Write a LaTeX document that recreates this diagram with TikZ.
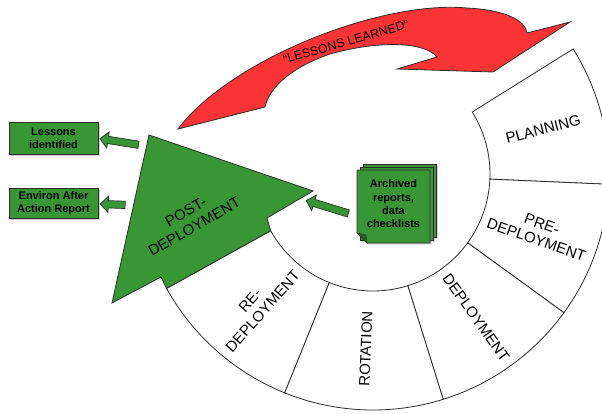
\documentclass[tikz,border=0pt]{standalone}
\usepackage{fontspec}
\setmainfont{Liberation Sans}
\usetikzlibrary{shapes.arrows,shadows}
\definecolor{leafgreen}{RGB}{57,150,52}
\definecolor{foldgreen}{RGB}{36,100,34}
\definecolor{loopred}{RGB}{250,52,52}
\definecolor{edgegray}{RGB}{45,45,45}
\begin{document}
\begin{tikzpicture}[x=1pt, y=1pt,
	segment/.style={draw=edgegray, fill=white, line width=0.8pt},
	seglabel/.style={font=\fontsize{15}{17}\selectfont, align=center, inner sep=0pt},
	greenbox/.style={rectangle, draw=edgegray, fill=leafgreen, line width=0.8pt, font=\fontsize{11}{13}\selectfont\bfseries, align=center, minimum width=89pt, drop shadow={shadow xshift=1.5pt, shadow yshift=-1.5pt, opacity=0.35}},
	blockarrow/.style={single arrow, draw=edgegray, fill=leafgreen, line width=0.7pt, inner xsep=0pt, inner ysep=3.3pt, single arrow head extend=4.5pt},
	page/.style={rectangle, draw=edgegray, fill=leafgreen, line width=0.7pt, minimum width=73pt, minimum height=73pt, drop shadow={shadow xshift=1.5pt, shadow yshift=-1.5pt, opacity=0.35}},
	]
	
	%Frame
	\clip (0,0) rectangle (602,-413);
	
	%Ring
	\begin{scope}[shift={(373,-174)}]
	\foreach \a/\b in {32/-2.5, -2.5/-36, -36/-72.7, -72.7/-112, -112/-151}
		\draw[segment] (\a:117) arc[start angle=\a, end angle=\b, radius=117] -- (\b:236) arc[start angle=\b, end angle=\a, radius=236] -- cycle;
	\draw[segment, fill=leafgreen] (-224,39) -- (-60,-17) -- (-106,-44) -- (-151:117) -- (-151:236) -- (-212,-103) -- (-261,-129) -- cycle;
	
	\node[seglabel, rotate=14.75]	(planning)		at (14.75:176)	{PLANNING};
	\node[seglabel, rotate=-19.25]	(predeploy)		at (-19.25:176)	{PRE-\\DEPLOYMENT};
	\node[seglabel, rotate=-54.35]	(deploy)		at (-54.35:177)	{DEPLOYMENT};
	\node[seglabel, rotate=87.65]	(rotation)		at (-92.35:175)	{ROTATION};
	\node[seglabel, rotate=48.5]	(redeploy)		at (-131.5:176)	{RE-\\DEPLOYMENT};
	\node[seglabel, rotate=30]		(postdeploy)	at (-183,-45)	{POST-\\DEPLOYMENT};
	\end{scope}
	
	%Lessons learned
	\draw[draw=edgegray, fill=loopred, line width=0.8pt] (178,-129) .. controls (230,-60) and (380,0) .. (467,-8) .. controls (505,-10) and (525,-20) .. (527,-33) -- (570,-22) -- (493,-72) -- (397,-69) -- (437,-57) .. controls (425,-42) and (380,-40) .. (330,-54) .. controls (295,-66) and (270,-85) .. (265,-107) -- cycle;
	\node[font=\fontsize{12.5}{14}\selectfont, rotate=16] (learned) at (346,-42) {"LESSONS LEARNED"};
	
	%Archive
	\node[page] (backpage)	at (399.5,-200.5)	{};
	\node[page] (midpage)	at (396.5,-203.5)	{};
	\draw[draw=edgegray, fill=leafgreen, line width=0.7pt, drop shadow={shadow xshift=1.5pt, shadow yshift=-1.5pt, opacity=0.35}] (357,-170) -- (430,-170) -- (430,-243) -- (367,-243) -- (357,-233) -- cycle;
	\draw[draw=edgegray, fill=foldgreen, line width=0.5pt] (357,-233) -- (366,-235) -- (367,-243) -- cycle;
	\node[font=\fontsize{11}{13.3}\selectfont\bfseries, align=center] (archived) at (393.5,-204) {Archived\\reports,\\data\\checklists};
	
	%Outputs
	\node[greenbox, minimum height=32pt]	(lessons)	at (53.5,-138)		{Lessons\\identified};
	\node[greenbox, minimum height=30pt]	(aar)		at (53.5,-203.5)	{Environ After\\Action Report};
	
	%Arrows
	\node[blockarrow, rotate=171, minimum height=39pt]	(tolessons)	at (121,-142)		{};
	\node[blockarrow, rotate=178, minimum height=25pt]	(toaar)		at (114.5,-204.5)	{};
	\node[blockarrow, rotate=163, minimum height=44pt]	(topost)	at (329,-207.5)		{};
	
\end{tikzpicture}
\end{document}
